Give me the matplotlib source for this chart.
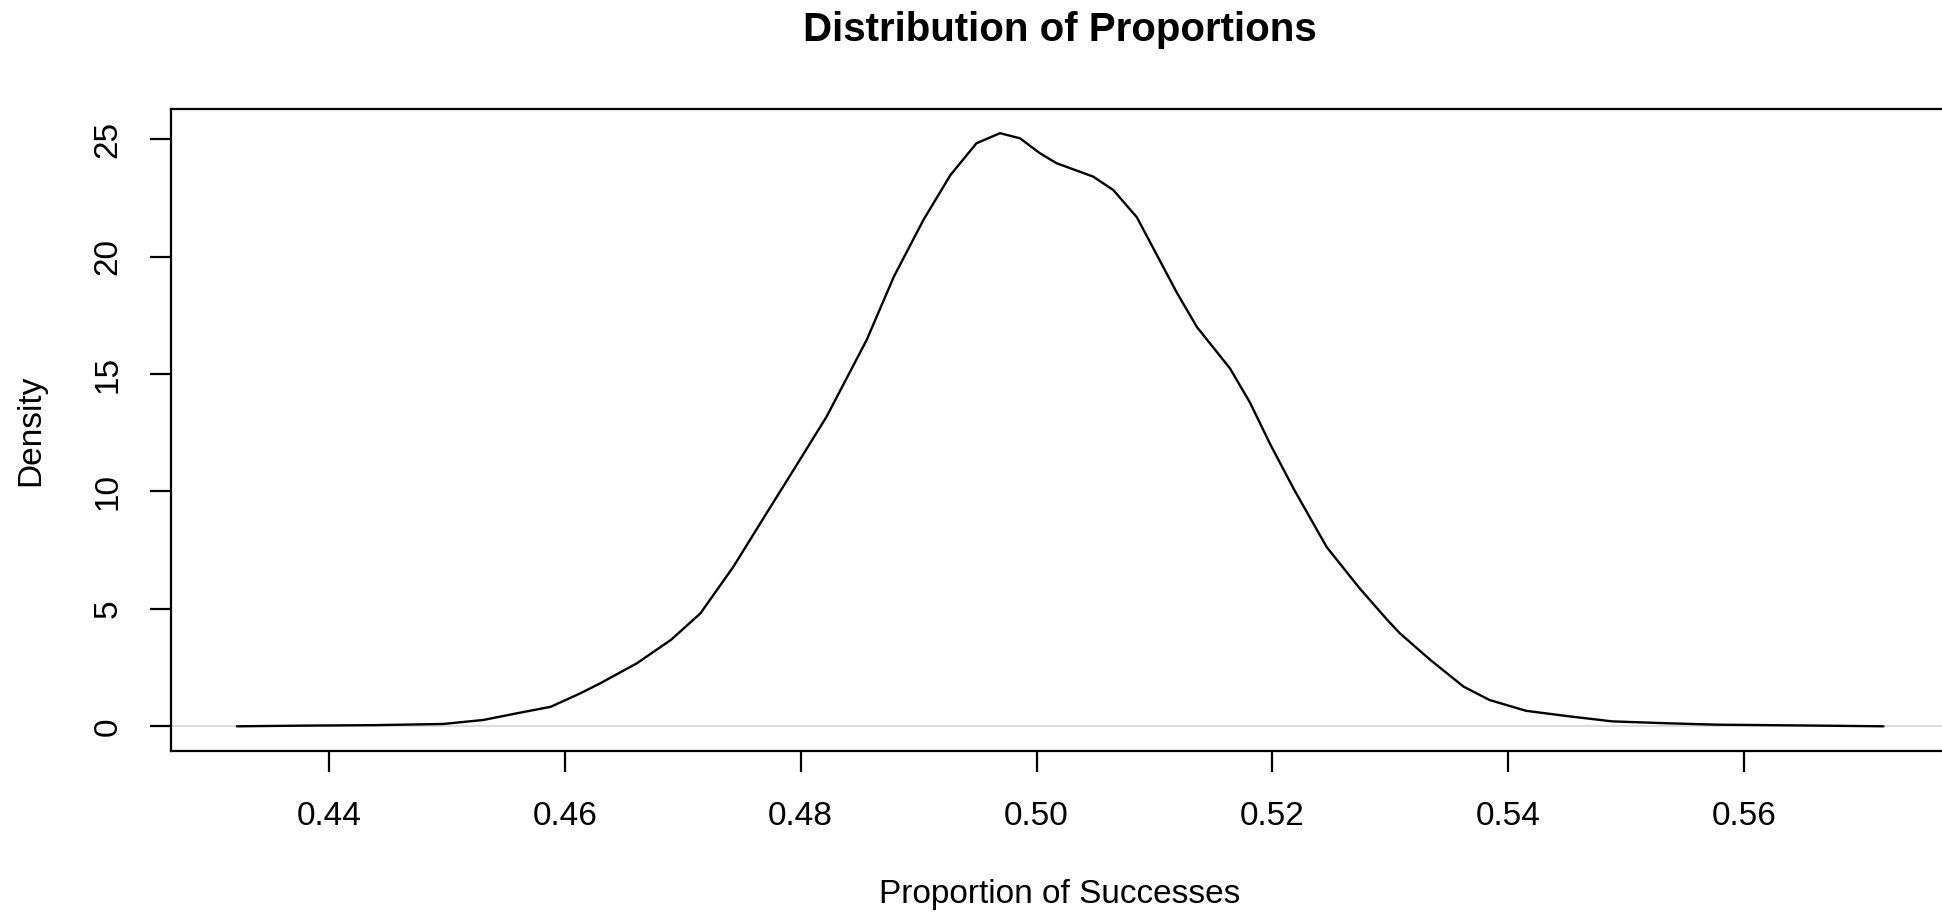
import numpy as np
import matplotlib
matplotlib.use('Agg')
import matplotlib.pyplot as plt

# Density curve
proportion = [0.4322, 0.4381, 0.4440, 0.4497, 0.4531, 0.4559, 0.4588, 0.4613,
              0.4630, 0.4661, 0.4690, 0.4715, 0.4743, 0.4771, 0.4794, 0.4822,
              0.4856, 0.4879, 0.4904, 0.4927, 0.4949, 0.4969, 0.4986, 0.5003,
              0.5017, 0.5048, 0.5065, 0.5085, 0.5102, 0.5119, 0.5136, 0.5164,
              0.5181, 0.5198, 0.5218, 0.5246, 0.5274, 0.5297, 0.5308, 0.5334,
              0.5362, 0.5384, 0.5415, 0.5449, 0.5488, 0.5534, 0.5576, 0.5661,
              0.5718]
density = [0.00, 0.03, 0.05, 0.10, 0.27, 0.55, 0.83, 1.40,
           1.83, 2.68, 3.68, 4.81, 6.80, 9.07, 10.92, 13.19,
           16.46, 19.15, 21.56, 23.48, 24.83, 25.26, 25.04, 24.40,
           23.98, 23.41, 22.84, 21.68, 20.07, 18.46, 17.00, 15.24,
           13.78, 12.02, 10.11, 7.63, 5.87, 4.55, 3.96, 2.82,
           1.69, 1.12, 0.66, 0.44, 0.21, 0.13, 0.07, 0.03,
           0.00]

x_ticks = [0.44, 0.46, 0.48, 0.50, 0.52, 0.54, 0.56]
x_tick_labels = ['0.44', '0.46', '0.48', '0.50', '0.52', '0.54', '0.56']
y_ticks = [0, 5, 10, 15, 20, 25]

plt.rcParams['font.family'] = ['Liberation Sans', 'DejaVu Sans']

W, H = 1942, 914
fig = plt.figure(figsize=(W / 100, H / 100), dpi=100)

# plot region in pixels (right edge runs past the image, as in the original)
left, right, top, bottom = 170.7, 1950.0, 109.0, 750.7
ax = fig.add_axes([left / W, 1 - bottom / H, (right - left) / W, (bottom - top) / H])

# zero line and the density curve
ax.axhline(0, color='#d6d6d6', lw=1.2, zorder=1)
ax.plot(proportion, density, color='black', lw=1.7, zorder=2,
        solid_joinstyle='round', solid_capstyle='round')

ax.set_xlim(0.42659, 0.57744)
ax.set_ylim(-1.039, 26.29)

ax.set_xticks(x_ticks)
ax.set_xticklabels(x_tick_labels)
ax.set_yticks(y_ticks)
ax.set_yticklabels([str(v) for v in y_ticks], rotation=90, va='center')

for s in ['left', 'bottom', 'top', 'right']:
    ax.spines[s].set_linewidth(1.6)
ax.tick_params(axis='both', length=15, width=1.6, labelsize=24)
ax.tick_params(axis='x', pad=21)
ax.tick_params(axis='y', pad=19)

# Title and axis labels
fig.text(1060 / W, 1 - 30 / H, 'Distribution of Proportions', ha='center', va='center',
         fontsize=29, fontweight='bold')
fig.text(1060 / W, 1 - 902.7 / H, 'Proportion of Successes', ha='center', va='baseline',
         fontsize=24)
fig.text(31 / W, 1 - 430 / H, 'Density', ha='center', va='center', rotation=90,
         fontsize=24)

fig.savefig('out.png', dpi=100)
